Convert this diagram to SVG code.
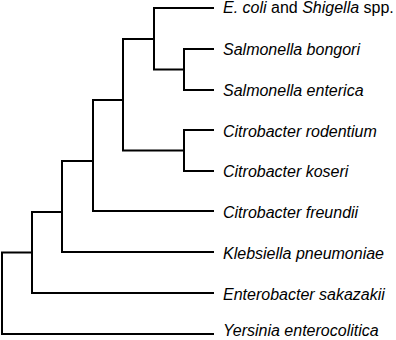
<svg xmlns="http://www.w3.org/2000/svg" width="396" height="340" viewBox="0 0 396 340">
<style>
.e{fill:none;stroke:#000;stroke-width:2;stroke-linecap:square}
.t{font-family:"Liberation Sans",Arial,sans-serif;font-size:16px;font-style:italic;fill:#000}
.n{font-style:normal}
</style>
<rect width="396" height="340" fill="#fff"/>
<g id="connectors">
<path class="e" d="M184,49V90M184,49H213M184,90H213"/>
<path class="e" d="M154,8V69.5M154,8H213M154,69.5H184"/>
<path class="e" d="M184,130V171M184,130H213M184,171H213"/>
<path class="e" d="M123,39V150.5M123,39H154M123,150.5H184"/>
<path class="e" d="M93,100V211M93,100H123M93,211H213"/>
<path class="e" d="M62,161V252M62,161H93M62,252H213"/>
<path class="e" d="M32,212V293M32,212H62M32,293H213"/>
<path class="e" d="M2,252.5V334M2,252.5H32M2,334H213"/>
</g>
<g id="leaf-ecoli"><text class="t" x="223" y="13">E. coli<tspan class="n"> and </tspan>Shigella<tspan class="n"> spp.</tspan></text></g>
<g id="leaf-sbongori"><text class="t" x="223" y="55">Salmonella bongori</text></g>
<g id="leaf-senterica"><text class="t" x="223" y="96">Salmonella enterica</text></g>
<g id="leaf-crodentium"><text class="t" x="223" y="136.5">Citrobacter rodentium</text></g>
<g id="leaf-ckoseri"><text class="t" x="223" y="177">Citrobacter koseri</text></g>
<g id="leaf-cfreundii"><text class="t" x="223" y="217.5">Citrobacter freundii</text></g>
<g id="leaf-klebsiella"><text class="t" x="223" y="258.5">Klebsiella pneumoniae</text></g>
<g id="leaf-enterobacter"><text class="t" x="223" y="300">Enterobacter sakazakii</text></g>
<g id="leaf-yersinia"><text class="t" x="223" y="336">Yersinia enterocolitica</text></g>
</svg>
